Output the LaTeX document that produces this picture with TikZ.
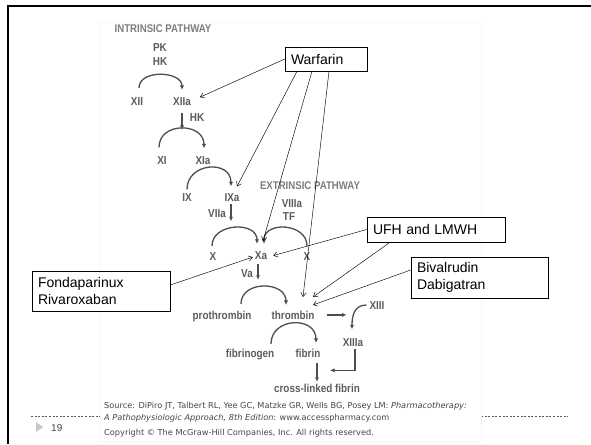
\documentclass[tikz,border=0pt]{standalone}
\usepackage{fontspec}
\setmainfont{Liberation Sans}
\newfontfamily\condf[FakeStretch=0.86]{Liberation Sans}
\newfontfamily\srcf{DejaVu Sans}
\usetikzlibrary{arrows.meta}
\definecolor{lab}{RGB}{92,92,92}
\definecolor{head}{RGB}{125,125,125}
\definecolor{curv}{RGB}{78,78,78}
\definecolor{srcc}{RGB}{70,70,70}
\begin{document}
\begin{tikzpicture}[x=1pt,y=-1pt,
  lbl/.style={font=\condf\fontsize{11.5}{12}\selectfont\bfseries, text=lab, inner sep=0pt, anchor=base},
  hd/.style={font=\condf\fontsize{11.2}{12}\selectfont\bfseries, text=head, inner sep=0pt, anchor=base},
  flow/.style={draw=curv, line width=1.3pt, -{Latex[length=4.5pt,width=4.2pt]}},
  call/.style={draw=black, line width=0.45pt, -{Straight Barb[length=4pt,width=5.5pt]}},
  box/.style={draw=black, line width=0.6pt, fill=white, font=\fontsize{14}{17}\selectfont,
    align=left, inner xsep=6pt, inner ysep=0pt, anchor=center},
  src/.style={font=\srcf\fontsize{8.2}{9}\selectfont, text=srcc, inner sep=0pt, anchor=base west}]
\useasboundingbox (0,0) rectangle (591,444);
\fill[white] (0,0) rectangle (591,444);
% slide frame
\draw[line width=2.6pt, black] (8,444) -- (8,6) -- (591,6);
% footer dashed line
\draw[gray!70!black, line width=0.5pt, dash pattern=on 2pt off 1.6pt] (31,416) -- (568,416);
% embedded figure background
\draw[gray!6, fill=white] (100,22) rectangle (481,441);
% footer page number
\fill[gray!45] (36,422) -- (43,427) -- (36,432) -- cycle;
\node[font=\fontsize{10}{12}\selectfont, text=srcc, inner sep=0pt, anchor=base west] (pg) at (51,431) {19};

% labels
\node[hd] (intr) at (163,33) {INTRINSIC PATHWAY};
\node[lbl] (pk) at (160,52) {PK};
\node[lbl] (hka) at (160,66) {HK};
\node[lbl] (xii) at (137,105.6) {XII};
\node[lbl] (xiia) at (182,105.6) {XIIa};
\node[lbl] (hkb) at (197,121.6) {HK};
\node[lbl] (xi) at (162,164) {XI};
\node[lbl] (xia) at (203,164) {XIa};
\node[lbl] (ix) at (187,201) {IX};
\node[lbl] (ixa) at (232,201) {IXa};
\node[hd] (extr) at (310,189) {EXTRINSIC PATHWAY};
\node[lbl] (viia) at (217,217) {VIIa};
\node[lbl] (viiia) at (292,207) {VIIIa};
\node[lbl] (tf) at (289,220) {TF};
\node[lbl] (xl) at (213,260.5) {X};
\node[lbl] (xa) at (261,259.5) {Xa};
\node[lbl] (xr) at (307,260.5) {X};
\node[lbl] (va) at (247,277) {Va};
\node[lbl] (proth) at (222,319) {prothrombin};
\node[lbl] (thromb) at (293,319) {thrombin};
\node[lbl] (xiii) at (377,309) {XIII};
\node[lbl] (xiiia) at (353,346) {XIIIa};
\node[lbl] (fbg) at (250,357) {fibrinogen};
\node[lbl] (fib) at (308,357) {fibrin};
\node[lbl] (clf) at (317,392) {cross-linked fibrin};

% cascade arrows
\draw[flow] ([xshift=2pt,yshift=9.5pt]xii.north) .. controls +(0,-19) and +(0,-19) .. ([yshift=7.5pt]xiia.north);
\draw[flow] ([yshift=-7pt]xiia.south) -- ++(0,17);
\draw[flow] ([xshift=-3pt,yshift=8.5pt]xi.north) .. controls +(0,-26) and +(0,-26) .. ([xshift=1pt,yshift=7.5pt]xia.north);
\draw[flow] ([yshift=3.5pt]ix.north) .. controls +(0,-27) and +(0,-27) .. ([xshift=-1pt,yshift=6.5pt]ixa.north);
\draw[flow] ([xshift=-1pt,yshift=-3pt]ixa.south) -- ++(0,17);
\draw[flow] ([xshift=-1pt,yshift=6.5pt]xl.north) .. controls +(0,-23) and +(0,-23) .. ([xshift=-4pt,yshift=7.5pt]xa.north);
\draw[flow] ([yshift=6.5pt]xr.north) .. controls +(0,-23) and +(0,-23) .. ([xshift=3pt,yshift=7.5pt]xa.north);
\draw[flow] ([xshift=-3pt,yshift=-4pt]xa.south) -- ++(0,16);
\draw[flow] ([xshift=19pt,yshift=6.5pt]proth.north) .. controls +(0,-24) and +(0,-24) .. ([xshift=-7pt,yshift=5.5pt]thromb.north);
\draw[flow] ([xshift=12pt]thromb.east) -- ++(20,0);
\draw[flow] ([xshift=-3pt]xiii.west) .. controls +(-12,0) and +(0,-14) .. ([xshift=-1pt,yshift=8.5pt]xiiia.north);
\draw[flow] ([xshift=21pt,yshift=4.5pt]fbg.north) .. controls +(0,-27) and +(0,-27) .. ([xshift=8pt,yshift=5.5pt]fib.north);
\draw[flow] ([xshift=9pt,yshift=-5.5pt]fib.south) -- ++(0,19);
\draw[flow] ([xshift=2pt,yshift=-3pt]xiiia.south) -- ++(0,21) -- ++(-25,0);

% callout boxes
\node[box, minimum width=82pt, minimum height=24pt, text width=70pt] (warf) at (326,59) {Warfarin};
\node[box, minimum width=138pt, minimum height=25pt, text width=126pt] (ufh) at (436,229.5) {UFH and LMWH};
\node[box, minimum width=137pt, minimum height=41pt, text width=125pt] (biv) at (479.5,277.5) {Bivalrudin\\Dabigatran};
\node[box, minimum width=138pt, minimum height=40pt, text width=126pt] (fond) at (101,291) {Fondaparinux\\Rivaroxaban};

% callout connectors
\draw[call] (warf.west) -- ([xshift=9pt,yshift=4.5pt]xiia.east);
\draw[call] ([xshift=-29pt]warf.south) -- ([xshift=5pt,yshift=6.5pt]ixa.north);
\draw[call] ([xshift=-14pt]warf.south) -- ([xshift=2pt,yshift=10.5pt]xa.north);
\draw[call] ([xshift=3pt]warf.south) -- ([xshift=10pt,yshift=13.5pt]thromb.north);
\draw[call] (ufh.west) -- ([xshift=6pt]xa.east);
\draw[call] ([xshift=-46pt]ufh.south) -- ([xshift=20pt,yshift=13.5pt]thromb.north);
\draw[call] ([yshift=7.5pt]biv.west) -- ([xshift=20pt,yshift=5.5pt]thromb.north);
\draw[call] ([yshift=6pt]fond.east) -- ([xshift=-2pt,yshift=-1.5pt]xa.west);

% source text
\node[src] (s1) at (104,408.5) {Source: DiPiro JT, Talbert RL, Yee GC, Matzke GR, Wells BG, Posey LM: \textit{Pharmacotherapy:}};
\node[src] (s2) at (104,420) {\textit{A Pathophysiologic Approach, 8th Edition}: www.accesspharmacy.com};
\node[src] (s3) at (104,435) {Copyright \textcopyright\ The McGraw-Hill Companies, Inc. All rights reserved.};
\end{tikzpicture}
\end{document}
